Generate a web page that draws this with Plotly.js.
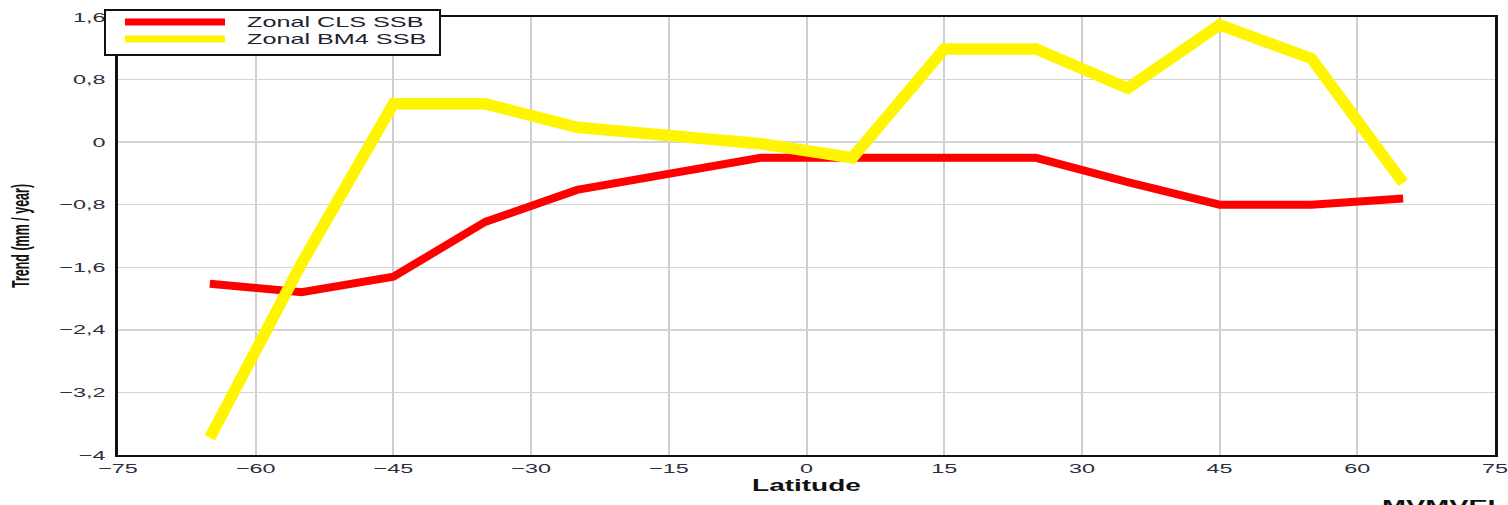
<!DOCTYPE html>
<html>
<head>
<meta charset="utf-8">
<script src="https://cdn.plot.ly/plotly-3.0.1.min.js"></script>
<style>
  html, body { margin: 0; padding: 0; background: #ffffff; }
  #chart { width: 1508px; height: 505px; }
</style>
</head>
<body>
<div id="chart"></div>
<script>
// Zonal sea level trend by latitude band, two SSB corrections
const latitude = [-65, -55, -45, -35, -25, -15, -5, 5, 15, 25, 35, 45, 55, 65];
const clsSSB = [-1.81, -1.92, -1.72, -1.02, -0.61, -0.41, -0.2, -0.2, -0.2, -0.2, -0.51, -0.8, -0.8, -0.72];
const bm4SSB = [-3.78, -1.55, 0.49, 0.49, 0.19, 0.08, -0.02, -0.2, 1.19, 1.19, 0.69, 1.5, 1.07, -0.52];
const seriesNames = ['Zonal CLS SSB', 'Zonal BM4 SSB'];
const seriesColors = ['#ff0000', '#fff500'];

const W = 1508, H = 505;
const M = { l: 118, r: 13, t: 17, b: 50 };
const plotW = W - M.l - M.r, plotH = H - M.t - M.b;
// pixel -> paper coordinates, for the hand-built legend box
const px = x => (x - M.l) / plotW;
const py = y => (H - M.b - y) / plotH;

// all lettering is drawn wide, as in the original export
const WIDE = 1.8;

const traces = [
  { x: latitude, y: clsSSB, name: seriesNames[0], type: 'scatter', mode: 'lines',
    line: { color: seriesColors[0], width: 8 }, hoverinfo: 'x+y' },
  { x: latitude, y: bm4SSB, name: seriesNames[1], type: 'scatter', mode: 'lines',
    line: { color: seriesColors[1], width: 11.5 }, hoverinfo: 'x+y' }
];

const sans = 'Liberation Sans, Arial, sans-serif';
const tickFont = { family: sans, size: 13, color: '#2e2e3c' };

const legendRows = [22, 39];
const shapes = [
  { type: 'rect', xref: 'paper', yref: 'paper', x0: px(105), x1: px(440), y0: py(55), y1: py(10),
    fillcolor: '#ffffff', line: { color: '#111111', width: 2 }, layer: 'above' }
];
const annotations = [];
seriesNames.forEach((name, i) => {
  shapes.push({ type: 'line', xref: 'paper', yref: 'paper', x0: px(125), x1: px(225),
    y0: py(legendRows[i]), y1: py(legendRows[i]),
    line: { color: seriesColors[i], width: 7 }, layer: 'above' });
  annotations.push({ xref: 'paper', yref: 'paper', x: px(245), y: py(legendRows[i]),
    xanchor: 'left', yanchor: 'middle', showarrow: false, text: name,
    font: { family: sans, size: 14, color: '#22222e' } });
});
annotations.push({ xref: 'paper', yref: 'paper', x: px(1380), y: py(496),
  xanchor: 'left', yanchor: 'top', showarrow: false, text: 'MVMVEL',
  font: { family: sans, size: 16, color: '#111111', weight: 'bold' } });

const layout = {
  width: W, height: H,
  margin: M,
  paper_bgcolor: '#ffffff', plot_bgcolor: '#ffffff',
  separators: ', ',
  showlegend: false,
  xaxis: {
    range: [-75, 75], tick0: -75, dtick: 15, ticks: '',
    showgrid: true, gridcolor: '#cfcfcf', gridwidth: 2, zeroline: false,
    showline: true, mirror: true, linecolor: '#111111', linewidth: 2,
    tickfont: tickFont,
    title: { text: '<b>Latitude</b>', standoff: 5,
      font: { family: sans, size: 16, color: '#111111' } }
  },
  yaxis: {
    range: [-4, 1.6], tick0: 0, dtick: 0.8, ticks: '',
    showgrid: true, gridcolor: '#d4d4d4', gridwidth: 1.5, zeroline: false,
    showline: true, mirror: true, linecolor: '#111111', linewidth: 3,
    ticklabelstandoff: 7,
    tickfont: tickFont,
    title: { text: '<b>Trend (mm / year)</b>', standoff: 51,
      font: { family: sans, size: 12.5, color: '#111111' } }
  },
  shapes: shapes,
  annotations: annotations
};

// stretch text horizontally about a pivot (left / center / right of its box)
function widen(selector, pivot, k) {
  document.querySelectorAll(selector).forEach(t => {
    const b = t.getBBox();
    const cx = pivot === 'left' ? b.x : pivot === 'right' ? b.x + b.width : b.x + b.width / 2;
    const prev = t.getAttribute('transform') || '';
    t.setAttribute('transform', prev + ' translate(' + cx + ',0) scale(' + k + ',1) translate(' + (-cx) + ',0)');
  });
}
// rotated title: thicken the glyphs across the reading direction
function thicken(selector, k) {
  document.querySelectorAll(selector).forEach(t => {
    const b = t.getBBox();
    const cy = b.y + b.height / 2;
    const prev = t.getAttribute('transform') || '';
    t.setAttribute('transform', prev + ' translate(0,' + cy + ') scale(1,' + k + ') translate(0,' + (-cy) + ')');
  });
}

Plotly.newPlot('chart', traces, layout, { displayModeBar: false, staticPlot: true }).then(() => {
  widen('.xtick text', 'center', WIDE);
  widen('.ytick text', 'right', WIDE);
  widen('.xtitle', 'center', 1.75);
  widen('.annotation-text', 'left', WIDE);
  thicken('.ytitle', 1.9);
});
</script>
</body>
</html>
